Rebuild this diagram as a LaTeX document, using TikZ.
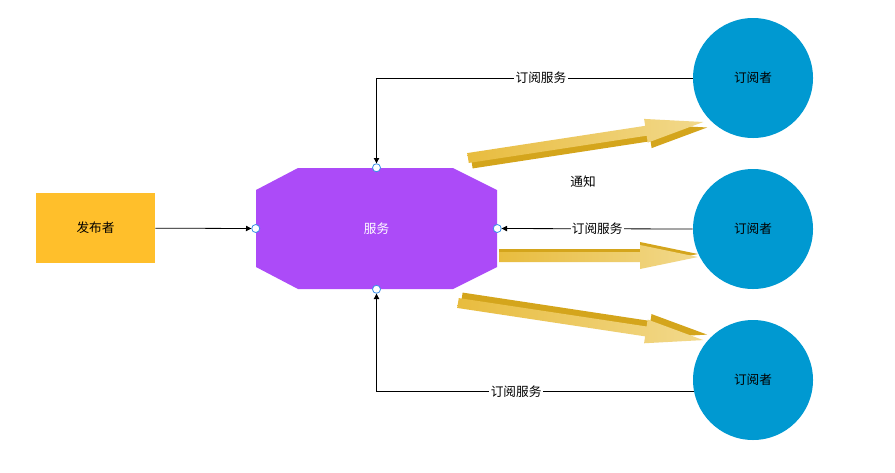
\documentclass[tikz,border=0pt]{standalone}
\usepackage{fontspec}
\setmainfont{Noto Sans CJK SC}
\usetikzlibrary{positioning, arrows.meta}

\definecolor{pubyellow}{HTML}{FFBF2B}
\definecolor{servpurple}{HTML}{AC4BF8}
\definecolor{subblue}{HTML}{0099D1}
\definecolor{portblue}{HTML}{3A8EE8}
\definecolor{golddark}{HTML}{D4A51C}
\definecolor{goldmid}{HTML}{E8BC3E}
\definecolor{goldlight}{HTML}{F2D98C}

\tikzset{
  every node/.style={font=\fontsize{9.5}{11}\selectfont},
  pubbox/.style={fill=pubyellow, minimum width=89.25pt, minimum height=52.5pt},
  servbox/.style={minimum width=180.75pt, minimum height=90.75pt, text=white},
  subcircle/.style={circle, fill=subblue, minimum size=90pt},
  port/.style={circle, draw=portblue, fill=white, line width=0.6pt, minimum size=6pt, inner sep=0pt},
  link/.style={line width=0.6pt, -{Triangle[length=4pt, width=4pt]}},
  linklabel/.style={fill=white, inner sep=1pt}
}

\begin{document}
\begin{tikzpicture}[x=0.75pt, y=-0.75pt]

\fill[white] (0,0) rectangle (895,472);
\useasboundingbox (0,0) rectangle (895,472);

% Publisher and service
\node[pubbox] (publisher) at (95.5,228) {发布者};
\fill[servpurple] (298,168) -- (453,168) -- (497,190) -- (497,267) -- (453,289)
  -- (298,289) -- (256,267) -- (256,190) -- cycle;
\node[servbox] (service) at (376.5,228.5) {服务};

% Subscribers
\node[subcircle] (sub1) at (753,78) {订阅者};
\node[subcircle] (sub2) at (753,229) {订阅者};
\node[subcircle] (sub3) at (753,380) {订阅者};

% Notify arrows
\foreach \tx/\ty/\ang/\len/\dx/\dy in {468/158/8.7/238/3/6, 499/257/0/199/0/-3, 458/303/-8.6/248/3/-6}
{
  \begin{scope}[shift={(\tx,\ty)}, rotate=\ang]
    \fill[golddark, shift={(\dx,\dy)}] (0,-5) -- (\len-58,-5) -- (\len-58,-12) -- (\len,0)
      -- (\len-58,12) -- (\len-58,5) -- (0,5) -- cycle;
    \shade[left color=goldmid, right color=goldlight] (0,-5) -- (\len-58,-5) -- (\len-58,-12)
      -- (\len,0) -- (\len-58,12) -- (\len-58,5) -- (0,5) -- cycle;
  \end{scope}
}
\node (notify) at (583,182) {通知};

% Ports
\node[port] (ptTop) at (service.north) {};
\node[port] (ptLeft) at (service.west) {};
\node[port] (ptRight) at (service.east) {};
\node[port] (ptBottom) at (service.south) {};

% Subscribe links
\draw[link] (publisher) -- (ptLeft);
\draw[link] (sub1.west) -| node[linklabel, pos=0.24] {订阅服务} (ptTop);
\draw[link] (sub2.west) -- node[linklabel] {订阅服务} (ptRight);
\draw[link] (sub3.191.5) -| node[linklabel, pos=0.28] {订阅服务} (ptBottom);

\end{tikzpicture}
\end{document}
